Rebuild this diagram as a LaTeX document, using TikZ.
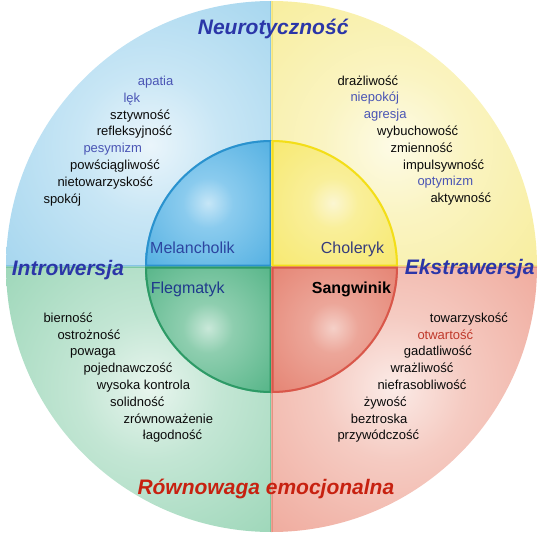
\documentclass[tikz,border=0pt]{standalone}
\usepackage{fontspec}
\setmainfont{Liberation Sans}
% outer ring colours
\definecolor{rB0}{HTML}{EAF5FB}\definecolor{rB1}{HTML}{C8E6F5}\definecolor{rB2}{HTML}{A8D7EF}\definecolor{rB3}{HTML}{8FC9E8}\definecolor{rBs}{HTML}{86C4E6}
\definecolor{rY0}{HTML}{FDFBE6}\definecolor{rY1}{HTML}{FAF4C2}\definecolor{rY2}{HTML}{F8EEA0}\definecolor{rY3}{HTML}{F5E888}\definecolor{rYs}{HTML}{F2E47A}
\definecolor{rG0}{HTML}{E8F5EE}\definecolor{rG1}{HTML}{C3E6D4}\definecolor{rG2}{HTML}{A0D8BB}\definecolor{rG3}{HTML}{86CDA9}\definecolor{rGs}{HTML}{7CC8A2}
\definecolor{rR0}{HTML}{FBEBE7}\definecolor{rR1}{HTML}{F5CBC2}\definecolor{rR2}{HTML}{F0ADA0}\definecolor{rR3}{HTML}{EB9A8B}\definecolor{rRs}{HTML}{E69282}
% core colours
\definecolor{cB0}{HTML}{C6E6F7}\definecolor{cB1}{HTML}{8ACBEE}\definecolor{cB2}{HTML}{4BACE0}\definecolor{cB3}{HTML}{3399D3}\definecolor{cBs}{HTML}{2A92CE}
\definecolor{cY0}{HTML}{FBF6D2}\definecolor{cY1}{HTML}{F9EF9A}\definecolor{cY2}{HTML}{F7E868}\definecolor{cY3}{HTML}{F4E050}\definecolor{cYs}{HTML}{F3DE18}
\definecolor{cG0}{HTML}{C9E8D9}\definecolor{cG1}{HTML}{8ECEAF}\definecolor{cG2}{HTML}{4DB182}\definecolor{cG3}{HTML}{38A26F}\definecolor{cGs}{HTML}{2D9A66}
\definecolor{cR0}{HTML}{F5D0C8}\definecolor{cR1}{HTML}{ECA699}\definecolor{cR2}{HTML}{E47E6D}\definecolor{cR3}{HTML}{DC6555}\definecolor{cRs}{HTML}{D9574A}
% text colours
\definecolor{titleblue}{HTML}{2B36A8}
\definecolor{titlered}{HTML}{C72110}
\definecolor{listblue}{HTML}{4A55B5}
\definecolor{listblack}{HTML}{0A0A0A}
\definecolor{otwred}{HTML}{C0392B}
\definecolor{melblue}{HTML}{2C45A0}
\definecolor{cholblue}{HTML}{363C7C}
\definecolor{flegblue}{HTML}{1F3A8C}
\pgfdeclareradialshading{ringB}{\pgfpoint{0bp}{0bp}}{color(0bp)=(rB0); color(9bp)=(rB1); color(23bp)=(rB2); color(50bp)=(rB3)}
\pgfdeclareradialshading{ringY}{\pgfpoint{0bp}{0bp}}{color(0bp)=(rY0); color(9bp)=(rY1); color(23bp)=(rY2); color(50bp)=(rY3)}
\pgfdeclareradialshading{ringG}{\pgfpoint{0bp}{0bp}}{color(0bp)=(rG0); color(9bp)=(rG1); color(23bp)=(rG2); color(50bp)=(rG3)}
\pgfdeclareradialshading{ringR}{\pgfpoint{0bp}{0bp}}{color(0bp)=(rR0); color(9bp)=(rR1); color(23bp)=(rR2); color(50bp)=(rR3)}
\pgfdeclareradialshading{coreB}{\pgfpoint{0bp}{0bp}}{color(0bp)=(cB0); color(5bp)=(cB1); color(20bp)=(cB2); color(50bp)=(cB3)}
\pgfdeclareradialshading{coreY}{\pgfpoint{0bp}{0bp}}{color(0bp)=(cY0); color(5bp)=(cY1); color(20bp)=(cY2); color(50bp)=(cY3)}
\pgfdeclareradialshading{coreG}{\pgfpoint{0bp}{0bp}}{color(0bp)=(cG0); color(5bp)=(cG1); color(20bp)=(cG2); color(50bp)=(cG3)}
\pgfdeclareradialshading{coreR}{\pgfpoint{0bp}{0bp}}{color(0bp)=(cR0); color(5bp)=(cR1); color(20bp)=(cR2); color(50bp)=(cR3)}
\begin{document}
\begin{tikzpicture}[x=1pt,y=-1pt,
  item/.style={anchor=base west,inner sep=0pt,font=\fontsize{13}{15}\selectfont,text=listblack},
  bitem/.style={item,text=listblue},
  core/.style={anchor=base west,inner sep=0pt,font=\fontsize{16}{18}\selectfont},
  ttl/.style={anchor=base west,inner sep=0pt,font=\fontsize{21}{24}\selectfont\bfseries\itshape,text=titleblue}]
\useasboundingbox (0,0) rectangle (546,535);
\coordinate (C) at (271.5,266.5);
\def\Ro{265.5}
\def\Ri{126.5}
% ---- outer ring quadrants
\begin{scope}
  \clip (C) -- ++(180:\Ro) arc[start angle=180,end angle=270,radius=\Ro] -- cycle;
  \shade[shading=ringB] (150,145) circle (200);
  \draw[rBs,line width=2.5] ([shift={(180:\Ro)}]C) -- (C) -- ([shift={(270:\Ro)}]C);
\end{scope}
\begin{scope}
  \clip (C) -- ++(270:\Ro) arc[start angle=270,end angle=360,radius=\Ro] -- cycle;
  \shade[shading=ringY] (393,145) circle (200);
  \draw[rYs,line width=2.5] ([shift={(270:\Ro)}]C) -- (C) -- ([shift={(0:\Ro)}]C);
\end{scope}
\begin{scope}
  \clip (C) -- ++(90:\Ro) arc[start angle=90,end angle=180,radius=\Ro] -- cycle;
  \shade[shading=ringG] (150,388) circle (200);
  \draw[rGs,line width=2.5] ([shift={(90:\Ro)}]C) -- (C) -- ([shift={(180:\Ro)}]C);
\end{scope}
\begin{scope}
  \clip (C) -- ++(0:\Ro) arc[start angle=0,end angle=90,radius=\Ro] -- cycle;
  \shade[shading=ringR] (393,388) circle (200);
  \draw[rRs,line width=2.5] ([shift={(0:\Ro)}]C) -- (C) -- ([shift={(90:\Ro)}]C);
\end{scope}
% ---- core quadrants
\begin{scope}
  \clip (C) -- ++(180:\Ri) arc[start angle=180,end angle=270,radius=\Ri] -- cycle;
  \shade[shading=coreB] (208,203) circle (125);
  \draw[cBs,line width=4] (C) -- ++(180:\Ri) arc[start angle=180,end angle=270,radius=\Ri] -- cycle;
\end{scope}
\begin{scope}
  \clip (C) -- ++(270:\Ri) arc[start angle=270,end angle=360,radius=\Ri] -- cycle;
  \shade[shading=coreY] (333,203) circle (125);
  \draw[cYs,line width=4] (C) -- ++(270:\Ri) arc[start angle=270,end angle=360,radius=\Ri] -- cycle;
\end{scope}
\begin{scope}
  \clip (C) -- ++(90:\Ri) arc[start angle=90,end angle=180,radius=\Ri] -- cycle;
  \shade[shading=coreG] (208,328) circle (125);
  \draw[cGs,line width=4] (C) -- ++(90:\Ri) arc[start angle=90,end angle=180,radius=\Ri] -- cycle;
\end{scope}
\begin{scope}
  \clip (C) -- ++(0:\Ri) arc[start angle=0,end angle=90,radius=\Ri] -- cycle;
  \shade[shading=coreR] (333,328) circle (125);
  \draw[cRs,line width=4] (C) -- ++(0:\Ri) arc[start angle=0,end angle=90,radius=\Ri] -- cycle;
\end{scope}
% ---- titles
\node[ttl] (neu) at (197.7,35) {Neurotyczność};
\node[ttl] (intro) at (11.7,275) {Introwersja};
\node[ttl] (ekstra) at (404.7,274) {Ekstrawersja};
\node[ttl,text=titlered] (rown) at (137.3,494) {Równowaga emocjonalna};
% ---- core labels
\node[core,text=melblue] (mel) at (150,253.3) {Melancholik};
\node[core,text=cholblue] (chol) at (320.7,253.3) {Choleryk};
\node[core,text=flegblue] (fleg) at (150.7,293.3) {Flegmatyk};
\node[core,font=\fontsize{16}{18}\selectfont\bfseries,text=black] (sang) at (311.7,293.3) {Sangwinik};
% ---- top-left list
\node[bitem] (tl1) at (137.7,85.5) {apatia};
\node[bitem] (tl2) at (123.3,102.3) {lęk};
\node[item] (tl3) at (110,119.1) {sztywność};
\node[item] (tl4) at (96.7,135.9) {refleksyjność};
\node[bitem] (tl5) at (83.3,152.7) {pesymizm};
\node[item] (tl6) at (70,169.5) {powściągliwość};
\node[item] (tl7) at (57.3,186.3) {nietowarzyskość};
\node[item] (tl8) at (43.3,203.1) {spokój};
% ---- top-right list
\node[item] (tr1) at (337.3,85) {drażliwość};
\node[bitem] (tr2) at (350.3,101.8) {niepokój};
\node[bitem] (tr3) at (363.7,118.6) {agresja};
\node[item] (tr4) at (377,135.4) {wybuchowość};
\node[item] (tr5) at (390.3,152.2) {zmienność};
\node[item] (tr6) at (403,169) {impulsywność};
\node[bitem] (tr7) at (417.3,185.8) {optymizm};
\node[item] (tr8) at (430.3,202.6) {aktywność};
% ---- bottom-left list
\node[item] (bl1) at (43.3,322.3) {bierność};
\node[item] (bl2) at (57.3,339.1) {ostrożność};
\node[item] (bl3) at (70,355.9) {powaga};
\node[item] (bl4) at (83.3,372.7) {pojednawczość};
\node[item] (bl5) at (96.7,389.5) {wysoka kontrola};
\node[item] (bl6) at (110,406.3) {solidność};
\node[item] (bl7) at (123.3,423.1) {zrównoważenie};
\node[item] (bl8) at (142.7,439.9) {łagodność};
% ---- bottom-right list
\node[item] (br1) at (429.7,322.3) {towarzyskość};
\node[item,text=otwred] (br2) at (417.3,339.1) {otwartość};
\node[item] (br3) at (403.7,355.9) {gadatliwość};
\node[item] (br4) at (390.3,372.7) {wrażliwość};
\node[item] (br5) at (377.3,389.5) {niefrasobliwość};
\node[item] (br6) at (363.7,406.3) {żywość};
\node[item] (br7) at (350.7,423.1) {beztroska};
\node[item] (br8) at (337.3,439.9) {przywódczość};
\end{tikzpicture}
\end{document}
